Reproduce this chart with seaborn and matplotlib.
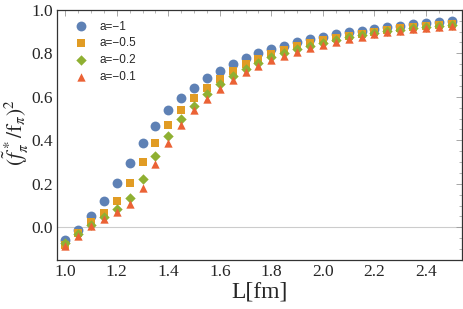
import numpy as np
import pandas as pd
import matplotlib
matplotlib.use("Agg")
import matplotlib.pyplot as plt
import seaborn as sns
from matplotlib.ticker import MultipleLocator

L = [1.0, 1.05, 1.1, 1.15, 1.2, 1.25, 1.3, 1.35, 1.4, 1.45, 1.5, 1.55, 1.6, 1.65, 1.7,
     1.75, 1.8, 1.85, 1.9, 1.95, 2.0, 2.05, 2.1, 2.15, 2.2, 2.25, 2.3, 2.35, 2.4, 2.45, 2.5]

a_m1 = [-0.06, -0.011, 0.051, 0.12, 0.205, 0.297, 0.389, 0.465, 0.538, 0.596, 0.642, 0.685,
        0.72, 0.751, 0.78, 0.80, 0.819, 0.835, 0.852, 0.865, 0.877, 0.888, 0.896, 0.904,
        0.913, 0.92, 0.926, 0.933, 0.938, 0.943, 0.948]
a_m05 = [-0.08, -0.026, 0.023, 0.066, 0.123, 0.205, 0.30, 0.389, 0.47, 0.539, 0.593, 0.642,
         0.684, 0.719, 0.750, 0.775, 0.797, 0.815, 0.832, 0.847, 0.861, 0.872, 0.882, 0.891,
         0.90, 0.908, 0.915, 0.921, 0.927, 0.932, 0.937]
a_m02 = [-0.072, -0.03, 0.012, 0.048, 0.082, 0.135, 0.224, 0.327, 0.419, 0.496, 0.558, 0.615,
         0.658, 0.696, 0.730, 0.757, 0.781, 0.800, 0.818, 0.834, 0.849, 0.862, 0.873, 0.883,
         0.893, 0.901, 0.909, 0.915, 0.921, 0.926, 0.931]
a_m01 = [-0.084, -0.038, 0.005, 0.039, 0.069, 0.108, 0.182, 0.289, 0.389, 0.469, 0.538, 0.592,
         0.638, 0.676, 0.714, 0.742, 0.768, 0.788, 0.806, 0.823, 0.839, 0.853, 0.865, 0.876,
         0.887, 0.896, 0.903, 0.911, 0.918, 0.922, 0.928]

labels = ["a=\u22121", "a=\u22120.5", "a=\u22120.2", "a=\u22120.1"]
series = [a_m1, a_m05, a_m02, a_m01]

df = pd.concat([pd.DataFrame({"L": L, "v": s, "a": lab}) for s, lab in zip(series, labels)],
               ignore_index=True)

sns.set_theme(style="white")
plt.rcParams["mathtext.fontset"] = "stix"

colors = ["#5E81B5", "#E19C24", "#8FB032", "#EB6235"]
markers = ["o", "s", "D", "^"]
sizes = [50, 38, 28, 36]

fig = plt.figure(figsize=(4.63, 3.09), dpi=100)
ax = fig.add_axes([0.123, 0.159, 0.875, 0.809])

ax.axhline(0, color="#cccccc", lw=0.8, zorder=0)
for lab, c, m, s in zip(labels, colors, markers, sizes):
    sub = df[df["a"] == lab]
    sns.scatterplot(data=sub, x="L", y="v", color=c, marker=m, s=s, linewidth=0,
                    ax=ax, label=lab)

ax.set_xlim(0.968, 2.54)
ax.set_ylim(-0.15, 1.0)
ax.xaxis.set_major_locator(MultipleLocator(0.2))
ax.xaxis.set_minor_locator(MultipleLocator(0.05))
ax.yaxis.set_major_locator(MultipleLocator(0.2))
ax.yaxis.set_minor_locator(MultipleLocator(0.05))
ax.xaxis.set_major_formatter(matplotlib.ticker.FormatStrFormatter("%.1f"))
ax.yaxis.set_major_formatter(matplotlib.ticker.FormatStrFormatter("%.1f"))
ax.tick_params(which="both", direction="in", top=True, right=True, color="#999999",
               labelsize=12.5, pad=3)
ax.tick_params(which="major", length=4, width=0.6)
ax.tick_params(which="minor", length=2, width=0.5)
for lbl in ax.get_xticklabels() + ax.get_yticklabels():
    lbl.set_family("Liberation Serif")
for sp in ax.spines.values():
    sp.set_color("#333333")
    sp.set_linewidth(0.9)

ax.set_xlabel("L[fm]", family="Liberation Serif", fontsize=17, labelpad=1)
ax.set_ylabel("")
fig.text(16 / 463, 1 - 133 / 309, r"$(\tilde{f}^{\,*}_{\pi}/\mathrm{f}_{\pi})^{2}$",
         fontsize=15.5, rotation=90, ha="center", va="center")

leg = ax.legend(loc="upper left", frameon=False, handletextpad=0.5,
                borderaxespad=0.5, labelspacing=0.4, markerscale=1.0,
                prop={"family": "Liberation Sans", "size": 8.5}, bbox_to_anchor=(0.005, 1.0))

fig.savefig("out.png", dpi=100)
